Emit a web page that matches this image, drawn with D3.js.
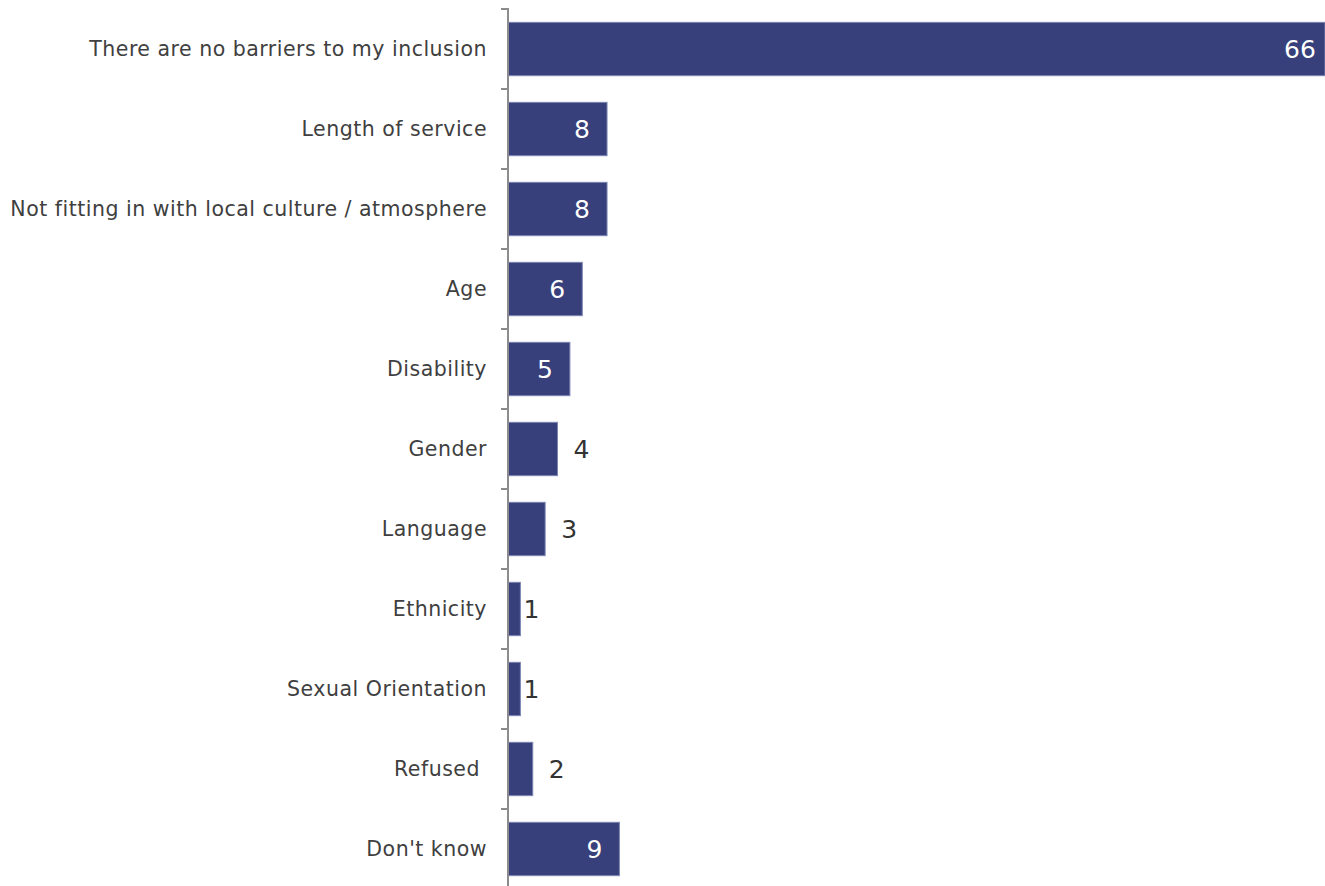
<!DOCTYPE html>
<html>
<head>
<meta charset="utf-8">
<script src="https://cdn.jsdelivr.net/npm/d3@7"></script>
<style>
  html, body { margin: 0; padding: 0; background: #ffffff; }
  svg { display: block; }
</style>
</head>
<body>
<script>
// Barriers to inclusion, % of respondents
const categories = [
  "There are no barriers to my inclusion",
  "Length of service",
  "Not fitting in with local culture / atmosphere",
  "Age",
  "Disability",
  "Gender",
  "Language",
  "Ethnicity",
  "Sexual Orientation",
  "Refused ",
  "Don't know"
];
const values = [66, 8, 8, 6, 5, 4, 3, 1, 1, 2, 9];

const width = 1325, height = 886;
const axisX = 508;

const svg = d3.select("body").append("svg")
  .attr("width", width)
  .attr("height", height);

const x = d3.scaleLinear().domain([0, 66]).range([axisX, 1325]);
const y = d3.scaleBand()
  .domain(categories)
  .range([9, 889])
  .paddingInner(0.333)
  .paddingOuter(0.1667);

const data = categories.map((c, i) => ({ c, v: values[i] }));

// Bars
svg.append("g").selectAll("rect")
  .data(data)
  .join("rect")
  .attr("x", x(0))
  .attr("y", d => y(d.c))
  .attr("width", d => x(d.v) - x(0))
  .attr("height", y.bandwidth())
  .attr("fill", "#37407a")
  .attr("stroke", "#7c86b2")
  .attr("stroke-width", 1);

// Category axis: labels centred on each band, ticks on band boundaries
const axis = d3.axisLeft(y).tickSize(0).tickPadding(21);
const gAxis = svg.append("g")
  .attr("transform", `translate(${axisX},0)`)
  .call(axis);
gAxis.select(".domain").remove();
gAxis.selectAll("text")
  .attr("font-family", "'DejaVu Sans', Verdana, sans-serif")
  .attr("font-size", 20.5)
  .attr("letter-spacing", "0.5px")
  .attr("fill", "#404040")
  .style("white-space", "pre");

const step = y.step();
const boundaries = categories.map(c => y(c) - (step - y.bandwidth()) / 2)
  .concat([y(categories[categories.length - 1]) + y.bandwidth() + (step - y.bandwidth()) / 2]);

svg.append("g").selectAll("line")
  .data(boundaries)
  .join("line")
  .attr("x1", axisX - 7)
  .attr("x2", axisX)
  .attr("y1", d => d)
  .attr("y2", d => d)
  .attr("stroke", "#8c8c8c")
  .attr("stroke-width", 2);

svg.append("line")
  .attr("x1", axisX).attr("x2", axisX)
  .attr("y1", boundaries[0] - 1)
  .attr("y2", boundaries[boundaries.length - 1])
  .attr("stroke", "#8c8c8c")
  .attr("stroke-width", 2);

// Value labels: inside the bar end when it fits, otherwise just past it
svg.append("g").selectAll("text")
  .data(data)
  .join("text")
  .attr("x", d => d.v >= 5 ? x(d.v) - 25 : (d.v >= 2 ? x(d.v) + 24 : x(d.v) + 11))
  .attr("y", d => y(d.c) + y.bandwidth() / 2)
  .attr("dy", "0.36em")
  .attr("text-anchor", "middle")
  .attr("font-family", "'DejaVu Sans', Verdana, sans-serif")
  .attr("font-size", 25)
  .attr("fill", d => d.v >= 5 ? "#ffffff" : "#333333")
  .text(d => d.v);
</script>
</body>
</html>
